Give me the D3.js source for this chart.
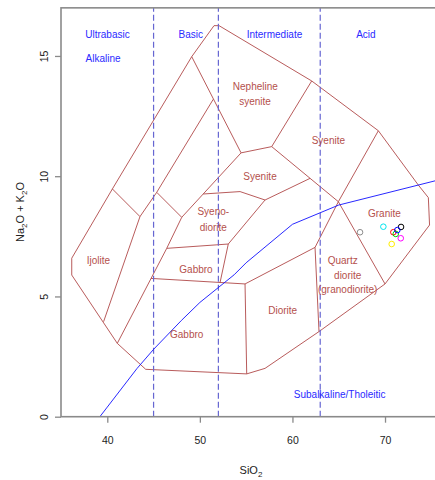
<!DOCTYPE html>
<html>
<head>
<meta charset="utf-8">
<script src="https://cdn.jsdelivr.net/npm/d3@7"></script>
<style>
  html, body { margin: 0; padding: 0; background: #fff; }
  svg { display: block; font-family: "Liberation Sans", Arial, sans-serif; }
</style>
</head>
<body>
<svg id="chart" width="435" height="480"></svg>
<script>
// Total alkali vs silica, plutonic classification fields

// outer envelope of the classified area (SiO2, Na2O+K2O)
const envelope = [
  [49.12, 14.97], [51.53, 16.26], [52.07, 16.26], [62.08, 13.96], [69.28, 11.89],
  [73.6, 9.63], [74.68, 9.11], [74.81, 7.97], [70.0, 5.52], [62.87, 3.54],
  [57.04, 2.01], [55.06, 1.78], [44.15, 1.97], [41.08, 3.05], [36.16, 5.89],
  [36.16, 6.59], [40.55, 9.47]
];

// internal field boundaries
const boundaries = [
  [[49.12, 14.97], [54.45, 10.97]],
  [[51.45, 13.2], [45.34, 9.33], [43.53, 8.32], [39.6, 3.95]],
  [[40.55, 9.47], [43.53, 8.32]],
  [[45.34, 9.33], [48.04, 8.29], [54.45, 10.97]],
  [[48.04, 8.29], [46.42, 7.0], [41.08, 3.05]],
  [[46.42, 7.0], [53.07, 7.18], [57.04, 9.01]],
  [[53.07, 7.18], [52.18, 5.58]],
  [[44.73, 5.75], [54.88, 5.52], [55.06, 1.78]],
  [[54.88, 5.52], [62.44, 7.04], [62.87, 3.54]],
  [[62.44, 7.04], [64.96, 8.94], [70.0, 5.52]],
  [[64.96, 8.94], [69.28, 11.89]],
  [[54.45, 10.97], [57.76, 11.23], [62.08, 13.96]],
  [[57.76, 11.23], [64.96, 8.94]],
  [[50.37, 9.26], [54.34, 9.36], [57.04, 9.01], [61.9, 9.91]]
];

// field names (one entry per text line)
const fieldNames = [
  { text: "Nepheline", x: 55.99, y: 13.72 },
  { text: "syenite", x: 55.96, y: 13.1 },
  { text: "Syenite", x: 63.88, y: 11.5 },
  { text: "Syenite", x: 56.5, y: 9.98 },
  { text: "Syeno-", x: 51.45, y: 8.55 },
  { text: "diorite", x: 51.45, y: 7.88 },
  { text: "Granite", x: 69.93, y: 8.46 },
  { text: "Ijolite", x: 39.03, y: 6.49 },
  { text: "Gabbro", x: 49.58, y: 6.14 },
  { text: "Gabbro", x: 48.58, y: 3.4 },
  { text: "Quartz", x: 65.43, y: 6.49 },
  { text: "diorite", x: 65.97, y: 5.89 },
  { text: "(granodiorite)", x: 65.97, y: 5.27 },
  { text: "Diorite", x: 58.95, y: 4.41 }
];

// silica divisions and their names
const silicaLimits = [45, 52, 63];
const silicaGroups = [
  { text: "Ultrabasic", x: 40.02, y: 15.9 },
  { text: "Basic", x: 49.02, y: 15.9 },
  { text: "Intermediate", x: 58.06, y: 15.9 },
  { text: "Acid", x: 67.93, y: 15.9 }
];
const seriesNames = [
  { text: "Alkaline", x: 39.54, y: 14.89 },
  { text: "Subalkaline/Tholeitic", x: 65.1, y: 0.94 }
];

// alkaline / subalkaline divide (Irvine & Baragar)
const divideSiO2 = [39.2, 40, 43.2, 45, 48, 50, 53.7, 55, 60, 65, 77.4];
const divideAlk = [0, 0.4, 2, 2.8, 4, 4.75, 5.9, 6.4, 8, 8.8, 10];

// samples
const sampleSiO2 = [71.73, 70.90, 71.16, 71.33, 69.82, 71.70, 70.72, 67.30];
const sampleAlk = [7.89, 7.67, 7.60, 7.76, 7.90, 7.42, 7.18, 7.67];
const samplePalette = ["#000000", "#ff0000", "#00cd00", "#0000ff", "#00e5ee", "#ff00ff", "#ffee00", "#8c8c8c"];

const xTicks = [40, 50, 60, 70];
const yTicks = [0, 5, 10, 15];

const svg = d3.select("#chart");
const x = d3.scaleLinear().domain([35, 80]).range([61, 477.6]);
const y = d3.scaleLinear().domain([0, 17]).range([416.7, 7.85]);

const fieldColor = "#b04848";
const line = d3.line().x(d => x(d[0])).y(d => y(d[1]));

const plot = svg.append("g");

// field outline and internal boundaries
plot.append("path")
  .attr("d", line(envelope) + "Z")
  .attr("fill", "none")
  .attr("stroke", fieldColor)
  .attr("stroke-width", 0.9);

plot.selectAll("path.boundary")
  .data(boundaries)
  .join("path")
  .attr("class", "boundary")
  .attr("d", line)
  .attr("fill", "none")
  .attr("stroke", fieldColor)
  .attr("stroke-width", 0.9);

// silica limits
plot.selectAll("line.silica")
  .data(silicaLimits)
  .join("line")
  .attr("class", "silica")
  .attr("x1", d => x(d)).attr("x2", d => x(d))
  .attr("y1", y(0)).attr("y2", y(17))
  .attr("stroke", "#6666d2")
  .attr("stroke-width", 1.2)
  .attr("stroke-dasharray", "6,3");

// alkaline divide
plot.append("path")
  .attr("d", line(divideSiO2.map((v, i) => [v, divideAlk[i]])))
  .attr("fill", "none")
  .attr("stroke", "#1010ff")
  .attr("stroke-width", 0.9);

// field names
plot.selectAll("text.field")
  .data(fieldNames)
  .join("text")
  .attr("class", "field")
  .attr("x", d => x(d.x))
  .attr("y", d => y(d.y))
  .attr("text-anchor", "middle")
  .attr("dominant-baseline", "central")
  .attr("font-size", 10)
  .attr("fill", "#b4504c")
  .text(d => d.text);

// group names
plot.selectAll("text.group")
  .data(silicaGroups.concat(seriesNames))
  .join("text")
  .attr("class", "group")
  .attr("x", d => x(d.x))
  .attr("y", d => y(d.y))
  .attr("text-anchor", "middle")
  .attr("dominant-baseline", "central")
  .attr("font-size", 10)
  .attr("fill", "#2a2aff")
  .text(d => d.text);

// samples
plot.selectAll("circle.sample")
  .data(sampleSiO2.map((v, i) => ({ si: v, alk: sampleAlk[i], c: samplePalette[i] })))
  .join("circle")
  .attr("class", "sample")
  .attr("cx", d => x(d.si))
  .attr("cy", d => y(d.alk))
  .attr("r", 2.8)
  .attr("fill", "none")
  .attr("stroke", d => d.c)
  .attr("stroke-width", 1);

// frame
svg.append("rect")
  .attr("x", x(35)).attr("y", y(17))
  .attr("width", x(80) - x(35)).attr("height", y(0) - y(17))
  .attr("fill", "none")
  .attr("stroke", "#8a8a8a")
  .attr("stroke-width", 1.6);

// axes
const axisColor = "#8a8a8a";
const gx = svg.append("g")
  .attr("transform", `translate(0,${y(0)})`)
  .call(d3.axisBottom(x).tickValues(xTicks).tickSize(6).tickPadding(14).tickSizeOuter(0));
gx.select(".domain").remove();
gx.selectAll(".tick line").attr("stroke", axisColor).attr("stroke-width", 1.3);
gx.selectAll(".tick text")
  .attr("fill", "#222")
  .attr("font-size", 10.5)
  .attr("font-family", "Liberation Sans, Arial, sans-serif");

const gy = svg.append("g")
  .attr("transform", `translate(${x(35)},0)`)
  .call(d3.axisLeft(y).tickValues(yTicks).tickSize(6).tickSizeOuter(0));
gy.select(".domain").remove();
gy.selectAll(".tick line").attr("stroke", axisColor).attr("stroke-width", 1.3);
gy.selectAll(".tick text")
  .attr("x", 0)
  .attr("dy", null)
  .attr("text-anchor", "middle")
  .attr("dominant-baseline", "central")
  .attr("transform", "translate(-17.5,0) rotate(-90)")
  .attr("fill", "#222")
  .attr("font-size", 10.5)
  .attr("font-family", "Liberation Sans, Arial, sans-serif");

// axis titles
const xt = svg.append("text")
  .attr("x", 251).attr("y", 474)
  .attr("text-anchor", "middle")
  .attr("font-size", 11)
  .attr("fill", "#222");
xt.append("tspan").text("SiO");
xt.append("tspan").attr("font-size", 8).attr("dy", 3).text("2");

const yt = svg.append("text")
  .attr("transform", "translate(24,212) rotate(-90)")
  .attr("text-anchor", "middle")
  .attr("font-size", 11)
  .attr("fill", "#222");
yt.append("tspan").text("Na");
yt.append("tspan").attr("font-size", 8).attr("dy", 3).text("2");
yt.append("tspan").attr("dy", -3).text("O + K");
yt.append("tspan").attr("font-size", 8).attr("dy", 3).text("2");
yt.append("tspan").attr("dy", -3).text("O");
</script>
</body>
</html>
